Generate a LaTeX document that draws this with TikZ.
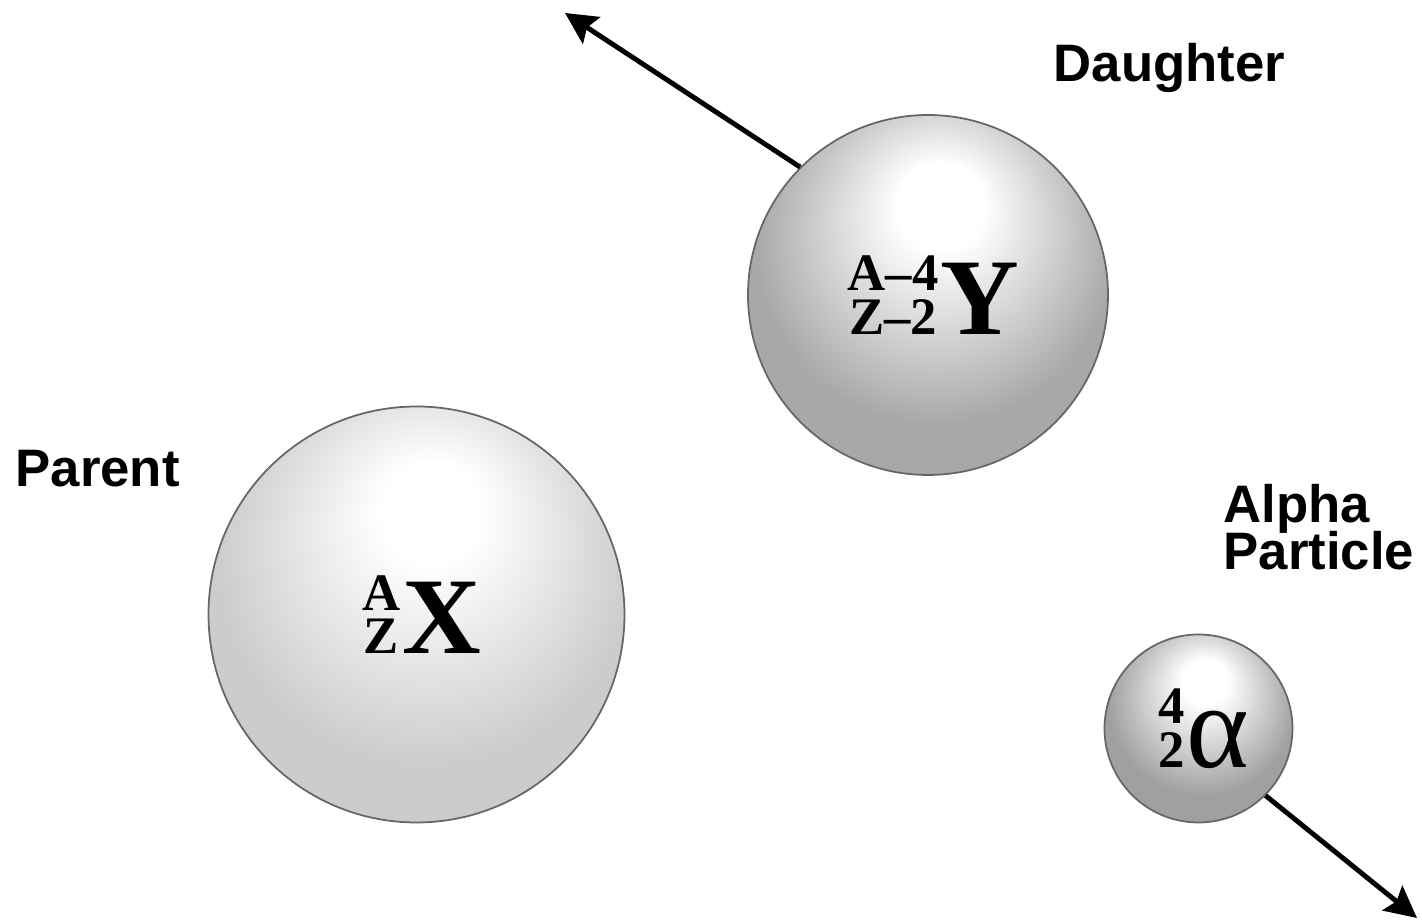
\documentclass[tikz,border=0pt]{standalone}
\usepackage{fontspec}
\setmainfont{Liberation Serif}
\setsansfont{Liberation Sans}
\usetikzlibrary{arrows.meta}
\definecolor{rimparent}{RGB}{204,204,204}
\definecolor{rimdaughter}{RGB}{168,168,168}
\definecolor{rimalpha}{RGB}{160,160,160}
\colorlet{rimc}{gray}
\pgfdeclareradialshading[rimc]{nucleus}{\pgfpoint{2bp}{14bp}}%
  {color(0bp)=(white); color(6bp)=(white); color(25bp)=(rimc); color(50bp)=(rimc)}
\newcommand{\nuclide}[3]{\kern3pt{\fontsize{15}{15}\selectfont\shortstack{#1\\[-0.5pt]#2}}\kern0.5pt{\fontsize{31}{31}\selectfont #3}}

\begin{document}
\begin{tikzpicture}[
  ball/.style={circle, draw=black!60, line width=0.5pt, inner sep=0pt, font=\bfseries,
    shading=nucleus, /utils/exec={\colorlet{rimc}{#1}}},
  lbl/.style={font=\sffamily\bfseries\fontsize{15}{18}\selectfont, inner sep=0pt,
    anchor=base west, align=left},
  >={Stealth[length=9pt, width=9pt, inset=1.5pt]}
]
\useasboundingbox (0,0) rectangle (14.22,9.21);

\node[ball=rimparent, minimum size=4.16cm] (parent) at (4.165,3.065)
  {\nuclide{A}{Z}{X}};
\node[ball=rimdaughter, minimum size=3.6cm] (daughter) at (9.28,6.26)
  {\nuclide{A--4}{Z--2}{Y}};
\node[ball=rimalpha, minimum size=1.88cm] (alpha) at (11.985,1.925)
  {\nuclide{4}{2}{\mdseries\fontsize{34}{34}\selectfont α}};

\node[lbl] (parentlbl) at (0.15,4.34) {Parent};
\node[lbl] (daughterlbl) at (10.53,8.39) {Daughter};
\node[lbl] (alphalbl) at (12.23,3.51) {Alpha\\[-4.6pt]Particle};

\coordinate (recoil) at (5.65,9.08);
\coordinate (escape) at (14.17,0.03);
\draw[->, line width=1.4pt] (daughter.135) -- (recoil);
\draw[->, line width=1.4pt] (alpha.-45) -- (escape);
\end{tikzpicture}
\end{document}
